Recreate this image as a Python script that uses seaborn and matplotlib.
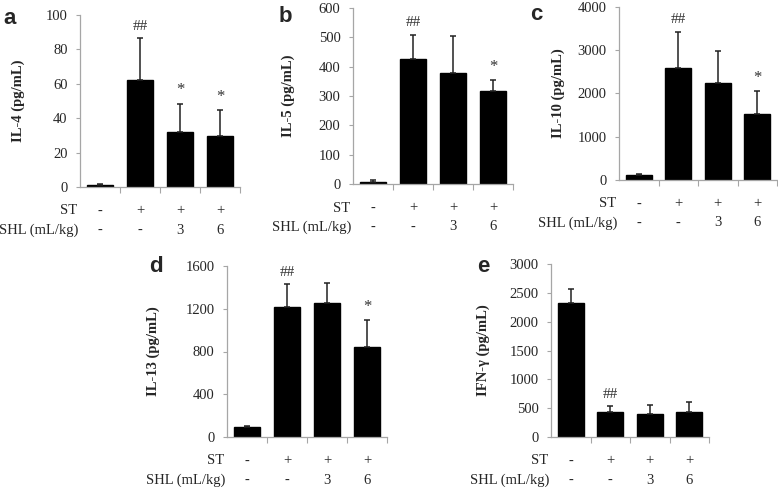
import pandas as pd
import numpy as np
import matplotlib
matplotlib.use("Agg")
import matplotlib.pyplot as plt
import seaborn as sns

sns.set_style("white")
plt.rcParams['font.family'] = ['Liberation Serif', 'DejaVu Serif']

groups = ["G1", "G2", "G3", "G4"]
st_row = ["-", "+", "+", "+"]
shl_row = ["-", "-", "3", "6"]

il4_mean = [1.0, 62.5, 32.0, 29.4]
il4_sd = [1.0, 24.0, 16.5, 15.5]
il5_mean = [8, 425, 377, 318]
il5_sd = [5, 84, 127, 36]
il10_mean = [110, 2600, 2240, 1520]
il10_sd = [25, 830, 750, 530]
il13_mean = [90, 1220, 1252, 845]
il13_sd = [15, 210, 188, 252]
ifn_mean = [2330, 432, 400, 432]
ifn_sd = [240, 105, 155, 180]

# (letter, ylabel, means, sds, ymax, ystep, marks)
panels = [
    ("a", "IL-4 (pg/mL)", il4_mean, il4_sd, 100, 20, ["", "##", "*", "*"]),
    ("b", "IL-5 (pg/mL)", il5_mean, il5_sd, 600, 100, ["", "##", "", "*"]),
    ("c", "IL-10 (pg/mL)", il10_mean, il10_sd, 4000, 1000, ["", "##", "", "*"]),
    ("d", "IL-13 (pg/mL)", il13_mean, il13_sd, 1600, 400, ["", "##", "", "*"]),
    ("e", "IFN-\u03b3 (pg/mL)", ifn_mean, ifn_sd, 3000, 500, ["", "##", "", ""]),
]

W, H = 778, 487
# axes boxes in pixels: left, top, right, bottom
boxes = [
    (80, 15, 240, 187),
    (353, 8, 513, 184),
    (619, 7, 777, 180),
    (227, 266, 387, 437),
    (551, 264, 709, 437),
]
letter_pos = [(10, 18), (285, 16), (536, 15), (156, 267), (483, 266)]
ylabel_off = [55, 58, 54, 67, 61]

fig = plt.figure(figsize=(W / 100, H / 100), dpi=100)
gray = "#a6a6a6"

for (letter, ylab, means, sds, ymax, ystep, marks), (l, t, r, b), lp, yo in zip(
        panels, boxes, letter_pos, ylabel_off):
    ax = fig.add_axes([l / W, 1 - b / H, (r - l) / W, (b - t) / H])
    df = pd.DataFrame({"group": groups, "value": means})
    sns.barplot(data=df, x="group", y="value", color="black", width=0.66,
                errorbar=None, ax=ax, edgecolor="black")
    x = np.arange(len(groups))
    ax.errorbar(x, means, yerr=[np.zeros(len(sds)), sds], fmt="none",
                ecolor="#222222", elinewidth=1.1, capsize=2.3, capthick=1.1)
    for xi, m, s, mk in zip(x, means, sds, marks):
        if mk:
            ax.text(xi, m + s + ymax * 0.03, mk, ha="center", va="bottom",
                    fontsize=12 if mk == "*" else 11, color="#333333")
    ax.set_xlim(-0.5, 3.5)
    ax.set_ylim(0, ymax)
    ax.set_yticks(np.arange(0, ymax + 1, ystep))
    ax.set_xticks([0.5, 1.5, 2.5, 3.5])
    ax.set_xticklabels([])
    ax.tick_params(axis="y", direction="out", length=3, width=0.8, color=gray,
                   labelsize=10.5, pad=6)
    ax.tick_params(axis="x", direction="out", length=4, width=0.8, color=gray)
    ax.tick_params(axis="both", which="both", left=True, bottom=True)
    for side in ["top", "right"]:
        ax.spines[side].set_visible(False)
    for side in ["left", "bottom"]:
        ax.spines[side].set_color(gray)
        ax.spines[side].set_linewidth(0.9)
    ax.set_xlabel("")
    ax.set_ylabel(ylab, fontsize=10.5, fontweight="bold")
    ax.yaxis.set_label_coords(-yo / (r - l), 0.5)
    for xi, s1, s2 in zip(x, st_row, shl_row):
        ax.annotate(s1, (xi, 0), xycoords=("data", "axes fraction"),
                    xytext=(0, -24 * 0.72), textcoords="offset points",
                    ha="center", va="center", fontsize=10.5)
        ax.annotate(s2, (xi, 0), xycoords=("data", "axes fraction"),
                    xytext=(0, -43 * 0.72), textcoords="offset points",
                    ha="center", va="center", fontsize=10.5)
    ax.annotate("ST", (-0.5, 0), xycoords=("data", "axes fraction"),
                xytext=(-2, -24 * 0.72), textcoords="offset points",
                ha="right", va="center", fontsize=10.5)
    ax.annotate("SHL (mL/kg)", (-0.5, 0), xycoords=("data", "axes fraction"),
                xytext=(-1, -43 * 0.72), textcoords="offset points",
                ha="right", va="center", fontsize=10.5)
    fig.text(lp[0] / W, 1 - lp[1] / H, letter, ha="center", va="center",
             fontsize=16, fontweight="bold", family=["Liberation Sans", "DejaVu Sans"])

fig.savefig("out.png", dpi=100)
